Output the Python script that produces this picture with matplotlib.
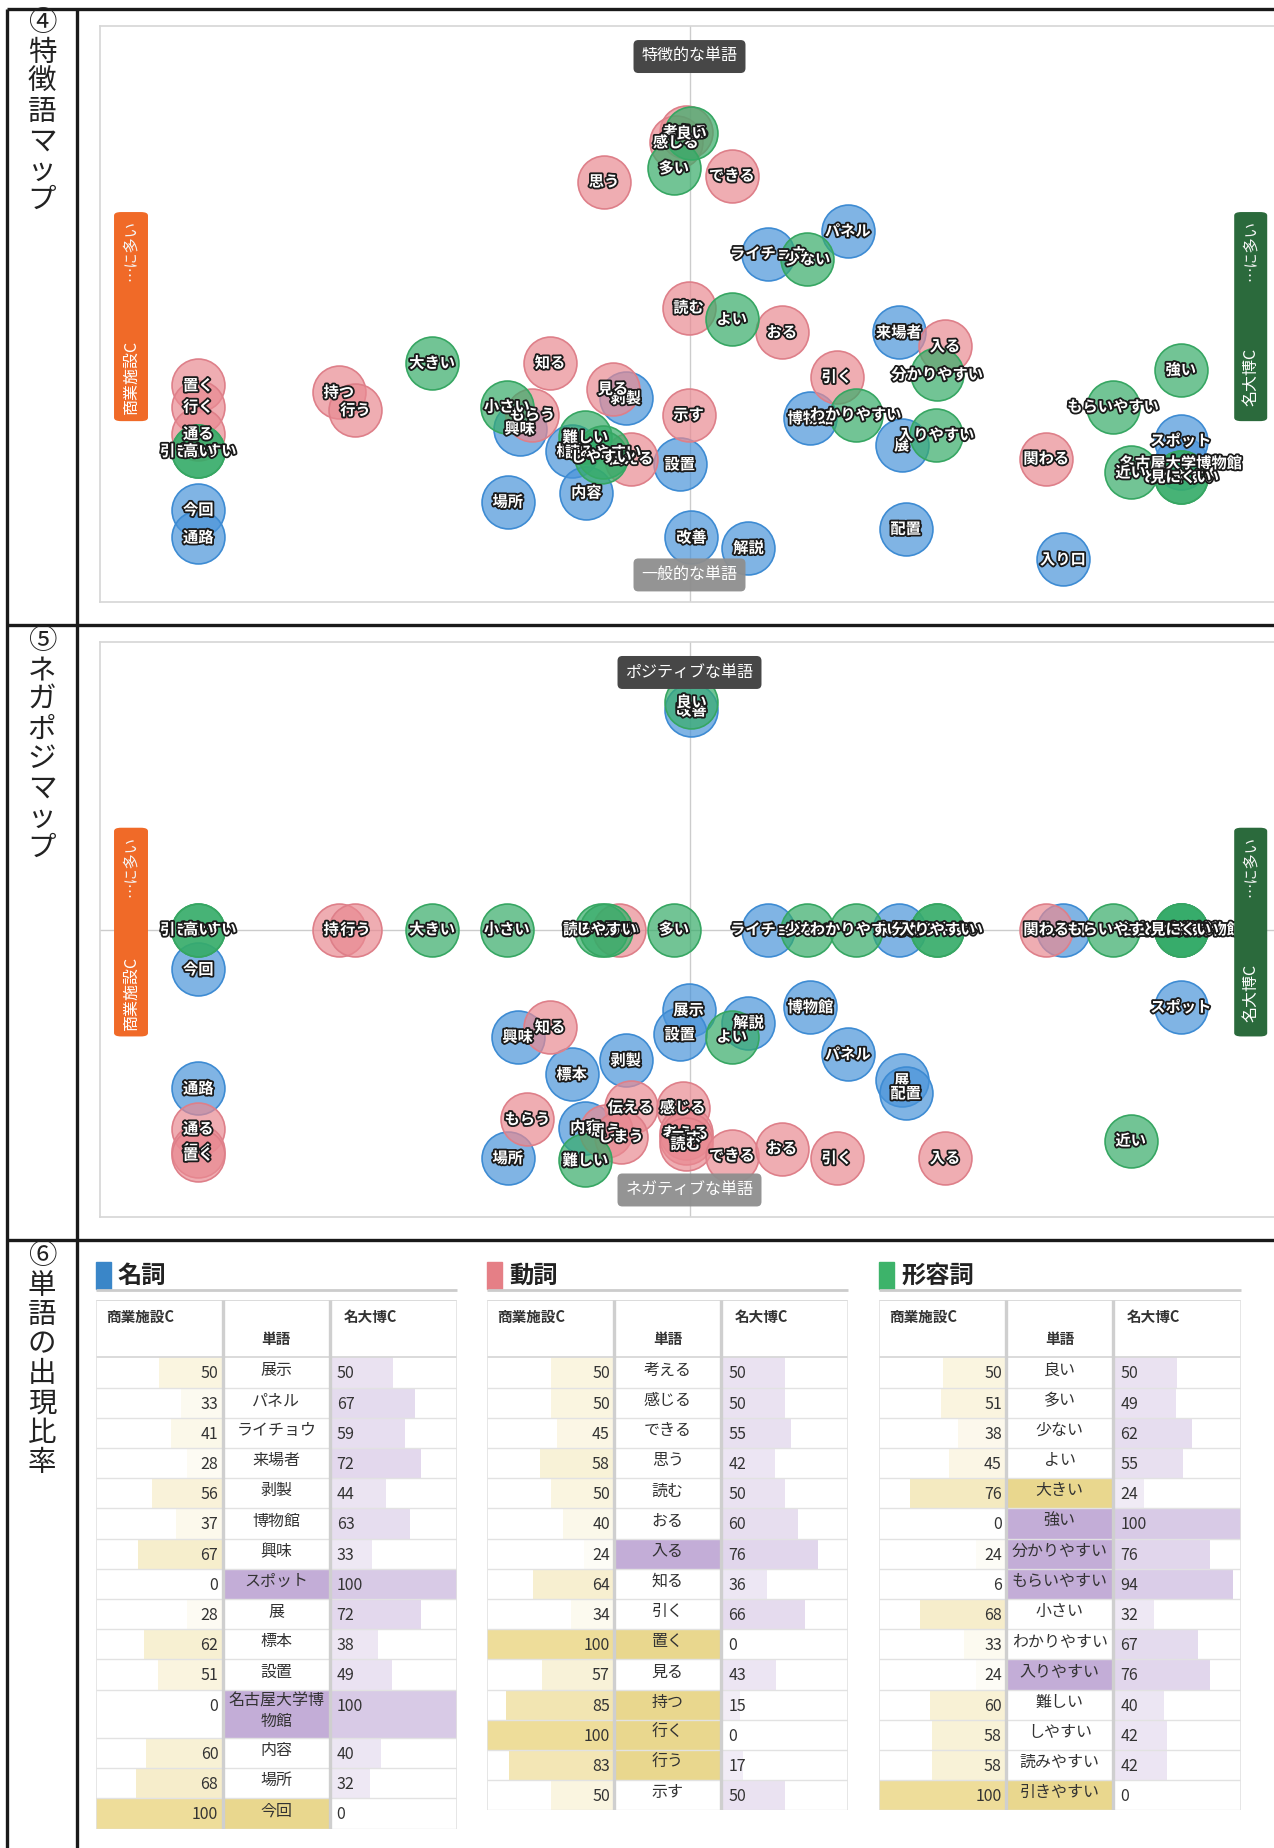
import numpy as np
import matplotlib.pyplot as plt
import matplotlib.patheffects as pe
from matplotlib.patches import FancyBboxPatch, Rectangle

plt.rcParams['font.family'] = ['Noto Sans CJK JP', 'DejaVu Sans']

W, H = 1274, 1848

# ---- ④ 特徴語マップ  x: 名大博Cの比率(%)  y: 特徴度 (0=一般的, 100=特徴的) ----
m1_noun = ["パネル", "ライチョウ", "来場者", "剥製", "博物館", "興味", "展", "標本", "設置", "内容",
           "場所", "今回", "通路", "改善", "解説", "配置", "入り口", "名古屋大学博物館", "スポット"]
m1_noun_x = [66.1, 58.0, 71.3, 43.5, 62.3, 32.7, 71.6, 38.0, 49.0, 39.5,
             31.5, 0, 0, 50.2, 56.0, 72.0, 88.0, 100, 100]
m1_noun_y = [64.4, 60.5, 46.8, 35.4, 31.9, 30.1, 27.2, 26.2, 23.9, 19.0,
             17.4, 16.0, 11.2, 11.2, 9.4, 12.7, 7.4, 24.1, 28.0]

m1_verb = ["思う", "できる", "考える", "感じる", "読む", "おる", "入る", "知る", "引く", "見る",
           "もらう", "示す", "置く", "行く", "通る", "持つ", "行う", "関わる", "伝える"]
m1_verb_x = [41.3, 54.3, 49.6, 48.6, 49.9, 59.4, 76.0, 35.8, 65.0, 42.2,
             34.0, 49.9, 0, 0, 0, 14.3, 16.0, 86.3, 44.0]
m1_verb_y = [73.0, 74.0, 81.6, 79.8, 51.1, 46.8, 44.4, 41.5, 39.1, 37.0,
             32.5, 32.5, 37.6, 33.9, 29.2, 36.4, 33.3, 24.9, 24.9]

m1_adj = ["良い", "多い", "少ない", "よい", "大きい", "小さい", "分かりやすい", "わかりやすい", "入りやすい",
          "強い", "もらいやすい", "近い", "引きやすい", "高い", "難しい", "読みやすい", "しやすい",
          "とれやすい", "見にくい"]
m1_adj_x = [50.2, 48.4, 62.0, 54.3, 23.8, 31.4, 75.2, 66.9, 75.1,
            100, 93.1, 94.9, 0, 0, 39.4, 41.2, 41.0, 100, 100]
m1_adj_y = [81.4, 75.3, 59.5, 49.1, 41.5, 33.9, 39.5, 32.5, 29.0,
            40.3, 33.9, 22.5, 26.2, 26.2, 28.6, 26.0, 25.2, 21.7, 21.7]

# ---- ⑤ ネガポジマップ  x: 名大博Cの比率(%)  y: ポジ(+)/ネガ(-) ----
m2_noun = ["改善", "今回", "通路", "ライチョウ", "来場者", "入り口", "名古屋大学博物館", "博物館", "展示",
           "解説", "設置", "興味", "剥製", "パネル", "標本", "展", "配置", "スポット", "内容", "場所"]
m2_noun_x = [50.2, 0, 0, 58.0, 71.3, 88.0, 100, 62.3, 49.9,
             56.0, 49.0, 32.5, 43.5, 66.1, 38.0, 71.6, 72.0, 100, 39.4, 31.5]
m2_noun_y = [76.2, -13.9, -55.3, 0, 0, 0, 0, -27.0, -28.0,
             -32.4, -36.5, -37.3, -45.5, -43.4, -50.4, -52.5, -57.0, -27.0, -68.9, -79.5]

m2_verb = ["持つ", "行う", "見る", "関わる", "知る", "伝える", "感じる", "考える", "示す", "読む",
           "できる", "おる", "引く", "入る", "もらう", "思う", "しまう", "通る", "行く", "置く"]
m2_verb_x = [14.3, 16.0, 42.8, 86.3, 35.8, 44.0, 49.3, 49.6, 49.6, 49.6,
             54.3, 59.4, 65.0, 76.0, 33.5, 41.5, 43.0, 0, 0, 0]
m2_verb_y = [0, 0, 0, 0, -34.0, -61.9, -62.0, -70.9, -72.5, -74.6,
             -78.7, -76.2, -79.5, -79.5, -66.0, -70.0, -72.0, -69.3, -77.0, -78.3]

m2_adj = ["良い", "引きやすい", "高い", "大きい", "小さい", "読みやすい", "しやすい", "多い", "少ない",
          "わかりやすい", "分かりやすい", "入りやすい", "もらいやすい", "強い", "とれやすい", "見にくい",
          "よい", "難しい", "近い"]
m2_adj_x = [50.2, 0, 0, 23.8, 31.4, 41.0, 41.5, 48.4, 62.0,
            66.9, 75.2, 75.2, 93.1, 100, 100, 100, 54.3, 39.4, 94.9]
m2_adj_y = [79.1, 0, 0, 0, 0, 0, 0, 0, 0,
            0, 0, 0, 0, 0, 0, 0, -37.3, -80.3, -73.4]

# ---- ⑥ 単語の出現比率 ----
noun_words = ["展示", "パネル", "ライチョウ", "来場者", "剥製", "博物館", "興味", "スポット", "展",
              "標本", "設置", "名古屋大学博\n物館", "内容", "場所", "今回"]
noun_shop = [50, 33, 41, 28, 56, 37, 67, 0, 28, 62, 51, 0, 60, 68, 100]
noun_meidai = [50, 67, 59, 72, 44, 63, 33, 100, 72, 38, 49, 100, 40, 32, 0]

verb_words = ["考える", "感じる", "できる", "思う", "読む", "おる", "入る", "知る", "引く",
              "置く", "見る", "持つ", "行く", "行う", "示す"]
verb_shop = [50, 50, 45, 58, 50, 40, 24, 64, 34, 100, 57, 85, 100, 83, 50]
verb_meidai = [50, 50, 55, 42, 50, 60, 76, 36, 66, 0, 43, 15, 0, 17, 50]

adj_words = ["良い", "多い", "少ない", "よい", "大きい", "強い", "分かりやすい", "もらいやすい", "小さい",
             "わかりやすい", "入りやすい", "難しい", "しやすい", "読みやすい", "引きやすい"]
adj_shop = [50, 51, 38, 45, 76, 0, 24, 6, 68, 33, 24, 60, 58, 58, 100]
adj_meidai = [50, 49, 62, 55, 24, 100, 76, 94, 32, 67, 76, 40, 42, 42, 0]

BLUE = ((0.29, 0.58, 0.85, 0.7), '#3d8bd3')
PINK = ((0.914, 0.541, 0.573, 0.7), '#de7f89')
GREEN = ((0.21, 0.675, 0.41, 0.7), '#36a662')


def rect(x0, y0, x1, y1):
    return [x0 / W, 1 - y1 / H, (x1 - x0) / W, (y1 - y0) / H]


fig = plt.figure(figsize=(W / 100, H / 100), dpi=100)

# frame of the sheet
bg = fig.add_axes([0, 0, 1, 1])
bg.set_xlim(0, W)
bg.set_ylim(H, 0)
bg.axis('off')
bg.hlines([9, 625, 1240], 7, W, color='#1a1a1a', lw=2.4)
bg.vlines([7, 77], 9, H, color='#1a1a1a', lw=2.4)
side_labels = [(8, "④\n特\n徴\n語\nマ\nッ\nプ"), (626, "⑤\nネ\nガ\nポ\nジ\nマ\nッ\nプ"),
               (1241, "⑥\n単\n語\nの\n出\n現\n比\n率")]
for y0, s in side_labels:
    bg.text(42, y0, s, ha='center', va='top', fontsize=20.5, linespacing=0.98, color='#222')


def draw_map(box, ylim, series, top_txt, bot_txt, hline):
    ax = fig.add_axes(rect(*box))
    ax.set_xlim(-10, 110)
    ax.set_ylim(*ylim)
    ax.set_xticks([])
    ax.set_yticks([])
    for sp in ax.spines.values():
        sp.set_color('#d6d6d6')
        sp.set_linewidth(1.2)
    ax.axvline(50, color='#cccccc', lw=1, zorder=1)
    if hline:
        ax.axhline(0, color='#cccccc', lw=1, zorder=1)
    for words, xs, ys, (face, edge) in series:
        ax.scatter(xs, ys, s=1450, color=[face], edgecolors=edge, linewidths=1.2, zorder=3)
    for words, xs, ys, _ in series:
        for w, x, y in zip(words, xs, ys):
            ax.text(x, y, w, ha='center', va='center', fontsize=11, fontweight='bold', color='white',
                    path_effects=[pe.withStroke(linewidth=2.6, foreground='#1a1a1a')], zorder=5)
    span = ylim[1] - ylim[0]
    ax.text(50, ylim[1] - span * 0.053, top_txt, ha='center', va='center', fontsize=11.5, color='white',
            bbox=dict(boxstyle='round,pad=0.5,rounding_size=0.3', fc='#474747', ec='none'), zorder=6)
    ax.text(50, ylim[0] + span * 0.047, bot_txt, ha='center', va='center', fontsize=11.5, color='white',
            bbox=dict(boxstyle='round,pad=0.5,rounding_size=0.3', fc='#8e8e8e', ec='none', alpha=0.95),
            zorder=6)
    for x0, x1, col, name in [(0.0119, 0.0407, '#f06a28', '商業施設C'), (0.962, 0.990, '#2b6a3c', '名大博C')]:
        ax.add_patch(FancyBboxPatch((x0, 0.314), x1 - x0, 0.363, boxstyle='round,pad=0,rounding_size=0.006',
                                    transform=ax.transAxes, fc=col, ec='none', zorder=6, clip_on=False))
        xc = (x0 + x1) / 2
        ax.text(xc, 0.39, name, rotation=90, transform=ax.transAxes, ha='center', va='center',
                color='white', fontsize=11.5, zorder=7)
        ax.text(xc, 0.61, '…に多い', rotation=90, transform=ax.transAxes, ha='center', va='center',
                color='#f4f4f4', fontsize=11, zorder=7)
    return ax


draw_map((100, 26, 1279, 602), (0, 100),
         [(m1_noun, m1_noun_x, m1_noun_y, BLUE), (m1_verb, m1_verb_x, m1_verb_y, PINK),
          (m1_adj, m1_adj_x, m1_adj_y, GREEN)],
         '特徴的な単語', '一般的な単語', False)
draw_map((100, 642, 1279, 1217), (-100, 100),
         [(m2_noun, m2_noun_x, m2_noun_y, BLUE), (m2_verb, m2_verb_x, m2_verb_y, PINK),
          (m2_adj, m2_adj_x, m2_adj_y, GREEN)],
         'ポジティブな単語', 'ネガティブな単語', True)


def yellow(v):
    a = (v / 100) ** 1.7
    base = np.array([0.933, 0.867, 0.604])
    return tuple(1 - a * (1 - base))


def purple(v):
    a = 0.3 + 0.7 * (v / 100) ** 1.5 if v > 0 else 0
    base = np.array([0.847, 0.792, 0.902])
    return tuple(1 - a * (1 - base))


ROW = 30.2   # px per row


def draw_table(x0, title, tcol, words, shop, meidai, tall=()):
    heights = np.array([1.6 if i in tall else 1.0 for i in range(len(words))])
    hdr = 1.9
    total = hdr + heights.sum()
    ax = fig.add_axes(rect(x0, 1300, x0 + 361.5, 1300 + total * ROW))
    ax.set_xlim(0, 284)
    ax.set_ylim(total, 0)
    ax.axis('off')
    tops = hdr + np.concatenate([[0], np.cumsum(heights)[:-1]])
    centers = tops + heights / 2
    ax.barh(centers, shop, left=[100 - v for v in shop], height=heights,
            color=[yellow(v) for v in shop], zorder=1)
    ax.barh(centers, meidai, left=184, height=heights, color=[purple(v) for v in meidai], zorder=1)
    hl = ['#e9d78e' if s >= 75 else '#c3add7' if m >= 75 else 'white' for s, m in zip(shop, meidai)]
    ax.barh(centers, 84, left=100, height=heights, color=hl, zorder=1)
    ax.hlines(tops + heights, 0, 284, color='#e2e2e2', lw=1, zorder=2)
    ax.hlines([0, hdr], 0, 284, color='#d8d8d8', lw=1.3, zorder=2)
    ax.vlines([0, 284], 0, total, color='#e2e2e2', lw=1.2, zorder=2)
    ax.vlines([100, 184], 0, total, color='#cfcfcf', lw=2.4, zorder=2)
    for w, s, m, t, h in zip(words, shop, meidai, tops, heights):
        ny = t + 0.55
        ax.text(96.5, ny, str(s), ha='right', va='center', fontsize=11.5, color='#333', zorder=3)
        ax.text(189.5, ny, str(m), ha='left', va='center', fontsize=11.5, color='#333', zorder=3)
        ax.text(142, t + h / 2 - 0.08, w, ha='center', va='center', fontsize=11.5, color='#333',
                linespacing=1.3, zorder=3)
    ax.text(8, 0.55, '商業施設C', ha='left', va='center', fontsize=10.5, fontweight='bold', color='#333')
    ax.text(142, 1.3, '単語', ha='center', va='center', fontsize=10.5, fontweight='bold', color='#333')
    ax.text(195, 0.55, '名大博C', ha='left', va='center', fontsize=10.5, fontweight='bold', color='#333')
    ax.add_patch(Rectangle((0, -1.27), 12, 0.92, color=tcol, clip_on=False))
    ax.text(17.5, -0.8, title, ha='left', va='center', fontsize=17.5, fontweight='bold', color='#222',
            clip_on=False)
    ax.hlines(-0.33, 0, 284, color='#cccccc', lw=2, clip_on=False)


draw_table(95.5, '名詞', '#3a86c8', noun_words, noun_shop, noun_meidai, tall=(11,))
draw_table(487, '動詞', '#e57f86', verb_words, verb_shop, verb_meidai)
draw_table(879, '形容詞', '#3db36a', adj_words, adj_shop, adj_meidai)

fig.savefig('out.png', dpi=100)
